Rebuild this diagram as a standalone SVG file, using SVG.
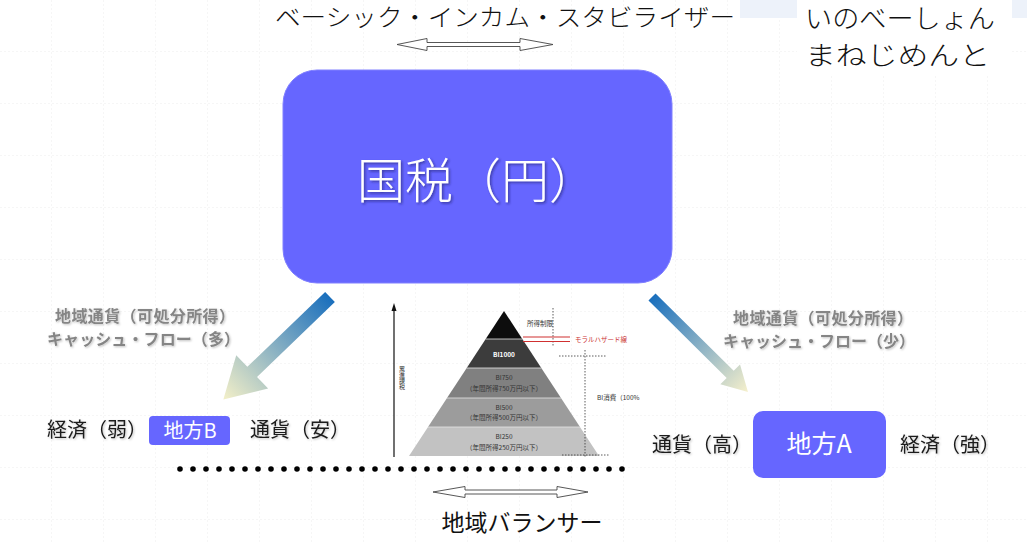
<svg xmlns="http://www.w3.org/2000/svg" width="1027" height="544" viewBox="0 0 1027 544">
<defs>
<style>
.jp{font-family:"Noto Sans CJK JP","Noto Sans",sans-serif}
.lbl{font-family:"Noto Sans CJK JP",sans-serif;font-size:20px;fill:#1a1a1a}
.gry{font-family:"Noto Sans CJK JP",sans-serif;font-size:16px;fill:#858585;font-weight:700}
.box{fill:#6666ff}
.wt{font-family:"Noto Sans CJK JP",sans-serif;fill:#ffffff}
.tiny{font-family:"Noto Sans CJK JP",sans-serif;font-size:6.5px;fill:#333;text-anchor:middle}
.dot{stroke:#333;stroke-width:0.8;stroke-dasharray:1.5 1.5;fill:none}
.hollow{fill:#ffffff;stroke:#444;stroke-width:0.9}
</style>
<pattern id="grid" width="52" height="52" patternUnits="userSpaceOnUse">
<path d="M52 0V52M0 52H52" fill="none" stroke="#ececec" stroke-width="1" stroke-dasharray="2 2"/>
</pattern>
<linearGradient id="gl" gradientUnits="userSpaceOnUse" x1="0" y1="0" x2="148" y2="0">
<stop offset="0" stop-color="#1a6fbd"/><stop offset="1" stop-color="#f4f0c8"/>
</linearGradient>
<linearGradient id="gr" gradientUnits="userSpaceOnUse" x1="0" y1="0" x2="135" y2="0">
<stop offset="0" stop-color="#1a6fbd"/><stop offset="1" stop-color="#f6f0cc"/>
</linearGradient>
<filter id="sh" x="-10%" y="-10%" width="130%" height="130%">
<feDropShadow dx="1.5" dy="1.5" stdDeviation="0.8" flood-color="#222266" flood-opacity="0.6"/>
</filter>
<filter id="sh2" x="-10%" y="-10%" width="130%" height="130%">
<feDropShadow dx="1" dy="1" stdDeviation="0.8" flood-color="#000" flood-opacity="0.25"/>
</filter>
</defs>
<rect width="1027" height="544" fill="#ffffff"/>
<rect width="1027" height="544" fill="url(#grid)"/>
<rect x="740" y="0" width="287" height="18" fill="#edf2fa"/>
<rect x="797" y="0" width="215" height="76" fill="#ffffff"/>

<g id="title">
<text class="jp" x="275" y="26" font-size="24" textLength="460" lengthAdjust="spacingAndGlyphs" fill="#111" font-weight="300">ベーシック・インカム・スタビライザー</text>
</g>
<g id="handwriting">
<text class="jp" x="805" y="28" font-size="26" textLength="190" lengthAdjust="spacingAndGlyphs" fill="#111" font-weight="300">いのべーしょん</text>
<text class="jp" x="805" y="65" font-size="26" textLength="185" lengthAdjust="spacingAndGlyphs" fill="#111" font-weight="300">まねじめんと</text>
</g>

<g id="connectors">
<path class="hollow" d="M397,44.5 L427,38.5 L427,42.5 L520,42.5 L520,38.5 L553,44.5 L520,50.5 L520,46.5 L427,46.5 L427,50.5 Z"/>
<path class="hollow" d="M433,492 L465,486.5 L465,490 L557,490 L557,486.5 L588,492 L557,497.5 L557,494 L465,494 L465,497.5 Z"/>
<g transform="translate(330,297) rotate(136.1)">
<path d="M0,-7 L108,-7 L108,-23 L148,0 L108,23 L108,7 L0,7 Z" fill="url(#gl)"/>
</g>
<g transform="translate(652,297) rotate(44.7)">
<path d="M0,-5 L110,-5 L110,-14 L135,0 L110,14 L110,5 L0,5 Z" fill="url(#gr)"/>
</g>
<line x1="180" y1="469" x2="623" y2="469" stroke="#000" stroke-width="5.6" stroke-linecap="round" stroke-dasharray="0 13"/>
</g>

<g id="kokuzei">
<rect x="283" y="70" width="389" height="213" rx="34" class="box" stroke="#8080ff" stroke-width="1"/>
<text class="wt" x="477" y="198" font-size="48" text-anchor="middle" font-weight="300" filter="url(#sh)">国税（円）</text>
</g>

<g id="chihouB">
<rect x="149" y="416" width="81" height="29" rx="4" class="box"/>
<text class="wt" x="190" y="438" font-size="20" text-anchor="middle">地方B</text>
</g>
<g id="chihouA">
<rect x="753" y="411" width="133" height="67" rx="10" class="box"/>
<text class="wt" x="819" y="453" font-size="25" text-anchor="middle">地方A</text>
</g>

<g id="labels" filter="url(#sh2)">
<text class="gry" x="55" y="322" textLength="180" lengthAdjust="spacing">地域通貨（可処分所得）</text>
<text class="gry" x="47" y="345" textLength="193" lengthAdjust="spacing">キャッシュ・フロー（多）</text>
<text class="gry" x="733" y="324" textLength="180" lengthAdjust="spacing">地域通貨（可処分所得）</text>
<text class="gry" x="723" y="347" textLength="192" lengthAdjust="spacing">キャッシュ・フロー（少）</text>
<text class="lbl" x="47" y="437">経済（弱）</text>
<text class="lbl" x="250" y="437">通貨（安）</text>
<text class="lbl" x="652" y="452">通貨（高）</text>
<text class="lbl" x="900" y="452">経済（強）</text>
</g>

<g id="pyramid">
<line x1="394" y1="457" x2="394" y2="310" stroke="#111" stroke-width="1.2"/>
<path d="M394,303 L391.5,311 L396.5,311 Z" fill="#111"/>
<text class="jp" x="402" y="366" font-size="6" fill="#333" writing-mode="tb">累進課税</text>
<polygon points="504,311 522.3,339 485.7,339" fill="#0d0d0d"/>
<polygon points="485.7,339 522.3,339 541.3,368 466.7,368" fill="#3c3c3c"/>
<polygon points="466.7,368 541.3,368 561,398 447,398" fill="#808080"/>
<polygon points="447,398 561,398 580,427 428,427" fill="#9c9c9c"/>
<polygon points="428,427 580,427 599,456 409,456" fill="#c2c2c2"/>
<g stroke="#e6e6e6" stroke-width="0.8">
<line x1="485.7" y1="339" x2="522.3" y2="339"/>
<line x1="466.7" y1="368" x2="541.3" y2="368"/>
<line x1="447" y1="398" x2="561" y2="398"/>
<line x1="428" y1="427" x2="580" y2="427"/>
</g>
<text class="tiny" x="504" y="357" style="fill:#fff;font-weight:700">BI1000</text>
<text class="tiny" x="504" y="380">BI750</text>
<text class="tiny" x="504" y="391">（年間所得750万円以下）</text>
<text class="tiny" x="504" y="410">BI500</text>
<text class="tiny" x="504" y="420">（年間所得500万円以下）</text>
<text class="tiny" x="504" y="439">BI250</text>
<text class="tiny" x="504" y="450">（年間所得250万円以下）</text>
<text class="tiny" x="540" y="326">所得制限</text>
<line class="dot" x1="553" y1="308" x2="553" y2="346"/>
<line x1="523" y1="337" x2="570" y2="337" stroke="#d03030" stroke-width="1.2"/>
<line x1="523" y1="341.5" x2="570" y2="341.5" stroke="#d03030" stroke-width="1.2"/>
<text class="jp" x="575" y="342" font-size="6.5" fill="#cc3333">モラルハザード線</text>
<line class="dot" x1="559" y1="356" x2="607" y2="356"/>
<line class="dot" x1="585" y1="350" x2="585" y2="458"/>
<line class="dot" x1="562" y1="455" x2="610" y2="455"/>
<text class="jp" x="597" y="400" font-size="6.5" fill="#333">BI消費（100%</text>
</g>

<g id="balancer">
<text class="jp" x="522" y="531" font-size="23" text-anchor="middle" fill="#111">地域バランサー</text>
</g>
</svg>
